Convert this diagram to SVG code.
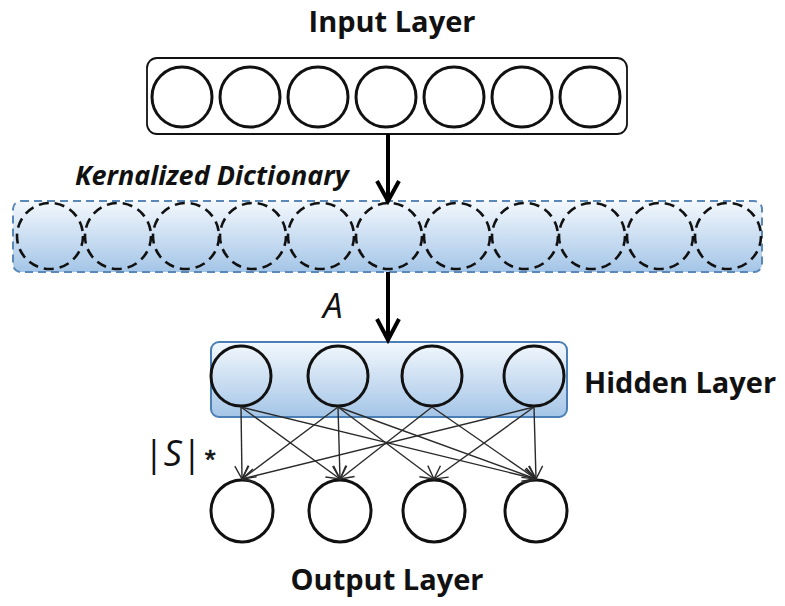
<svg xmlns="http://www.w3.org/2000/svg" width="785" height="606" viewBox="0 0 785 606">
<defs>
<linearGradient id="blueGrad" x1="0" y1="0" x2="0" y2="1">
<stop offset="0" stop-color="#f3f8fd"/>
<stop offset="1" stop-color="#a4c5e7"/>
</linearGradient>
<marker id="openArrow" markerUnits="userSpaceOnUse" markerWidth="16" markerHeight="18" refX="13" refY="7" orient="auto" overflow="visible">
<path d="M0,0 L13,7 L0,14" fill="none" stroke="#2a2a2a" stroke-width="1.4"/>
</marker>
</defs>
<style>
.lbl{font-family:"Open Sans","Liberation Sans",sans-serif;font-weight:bold;font-size:29px;fill:#111}
.node{fill:#fff;stroke:#111;stroke-width:3}
.hnode{fill:none;stroke:#111;stroke-width:3}
.dnode{fill:none;stroke:#111;stroke-width:2.6;stroke-dasharray:10 6}
.conn{stroke:#2a2a2a;stroke-width:1.4;fill:none;marker-end:url(#openArrow)}
.big{stroke:#000;stroke-width:4;fill:none}
</style>

<text class="lbl" x="392" y="32" text-anchor="middle">Input Layer</text>

<g id="input-layer">
<rect x="147" y="58" width="480" height="76" rx="10" fill="#fff" stroke="#111" stroke-width="1.8"/>
<circle class="node" cx="182" cy="97" r="30"/>
<circle class="node" cx="250" cy="97" r="30"/>
<circle class="node" cx="318" cy="97" r="30"/>
<circle class="node" cx="386" cy="97" r="30"/>
<circle class="node" cx="454" cy="97" r="30"/>
<circle class="node" cx="522" cy="97" r="30"/>
<circle class="node" cx="590" cy="97" r="30"/>
</g>

<text x="75" y="185" font-family="'Open Sans','Liberation Sans',sans-serif" font-weight="bold" font-style="italic" font-size="27" fill="#111">Kernalized Dictionary</text>

<g id="dictionary">
<rect x="13" y="201" width="749" height="71" rx="8" fill="url(#blueGrad)" stroke="#5a88b8" stroke-width="2" stroke-dasharray="8 5"/>
<circle class="dnode" cx="50" cy="236" r="33"/>
<circle class="dnode" cx="118" cy="236" r="33"/>
<circle class="dnode" cx="186" cy="236" r="33"/>
<circle class="dnode" cx="253" cy="236" r="33"/>
<circle class="dnode" cx="321" cy="236" r="33"/>
<circle class="dnode" cx="389" cy="236" r="33"/>
<circle class="dnode" cx="457" cy="236" r="33"/>
<circle class="dnode" cx="525" cy="236" r="33"/>
<circle class="dnode" cx="592" cy="236" r="33"/>
<circle class="dnode" cx="660" cy="236" r="33"/>
<circle class="dnode" cx="728" cy="236" r="33"/>
</g>

<text x="323" y="318" font-family="'Open Sans','Liberation Sans',sans-serif" font-style="italic" font-size="35" fill="#111">A</text>

<g id="hidden-layer">
<rect x="211" y="342" width="356" height="75" rx="8" fill="url(#blueGrad)" stroke="#4a7fb5" stroke-width="2"/>
<circle class="hnode" cx="241" cy="376" r="30"/>
<circle class="hnode" cx="338" cy="376" r="30"/>
<circle class="hnode" cx="432" cy="376" r="30"/>
<circle class="hnode" cx="534" cy="376" r="30"/>
</g>
<text class="lbl" x="584" y="393">Hidden Layer</text>

<g id="output-layer">
<circle class="node" cx="242" cy="511" r="31"/>
<circle class="node" cx="340" cy="511" r="31"/>
<circle class="node" cx="434" cy="511" r="31"/>
<circle class="node" cx="536" cy="511" r="31"/>
</g>
<text class="lbl" x="387" y="590" text-anchor="middle">Output Layer</text>

<text x="144" y="466" font-family="'Open Sans','Liberation Sans',sans-serif" font-size="36" fill="#111">|<tspan font-style="italic">S</tspan>|<tspan font-family="'Liberation Sans',sans-serif" font-size="28" dx="3" dy="3" stroke="#111" stroke-width="0.6">*</tspan></text>

<g id="connectors">
<line class="big" x1="388" y1="134" x2="388" y2="199"/>
<polyline class="big" points="377,181 388,201 399,181"/>
<line class="big" x1="388" y1="272" x2="388" y2="338"/>
<polyline class="big" points="377,319 388,340 399,319"/>

<line class="conn" x1="241" y1="407" x2="242" y2="479"/>
<line class="conn" x1="241" y1="407" x2="340" y2="479"/>
<line class="conn" x1="241" y1="407" x2="536" y2="479"/>
<line class="conn" x1="338" y1="407" x2="242" y2="479"/>
<line class="conn" x1="338" y1="407" x2="340" y2="479"/>
<line class="conn" x1="338" y1="407" x2="434" y2="479"/>
<line class="conn" x1="338" y1="407" x2="536" y2="479"/>
<line class="conn" x1="432" y1="407" x2="340" y2="479"/>
<line class="conn" x1="432" y1="407" x2="536" y2="479"/>
<line class="conn" x1="534" y1="407" x2="242" y2="479"/>
<line class="conn" x1="534" y1="407" x2="434" y2="479"/>
<line class="conn" x1="534" y1="407" x2="536" y2="479"/>
</g>
</svg>
